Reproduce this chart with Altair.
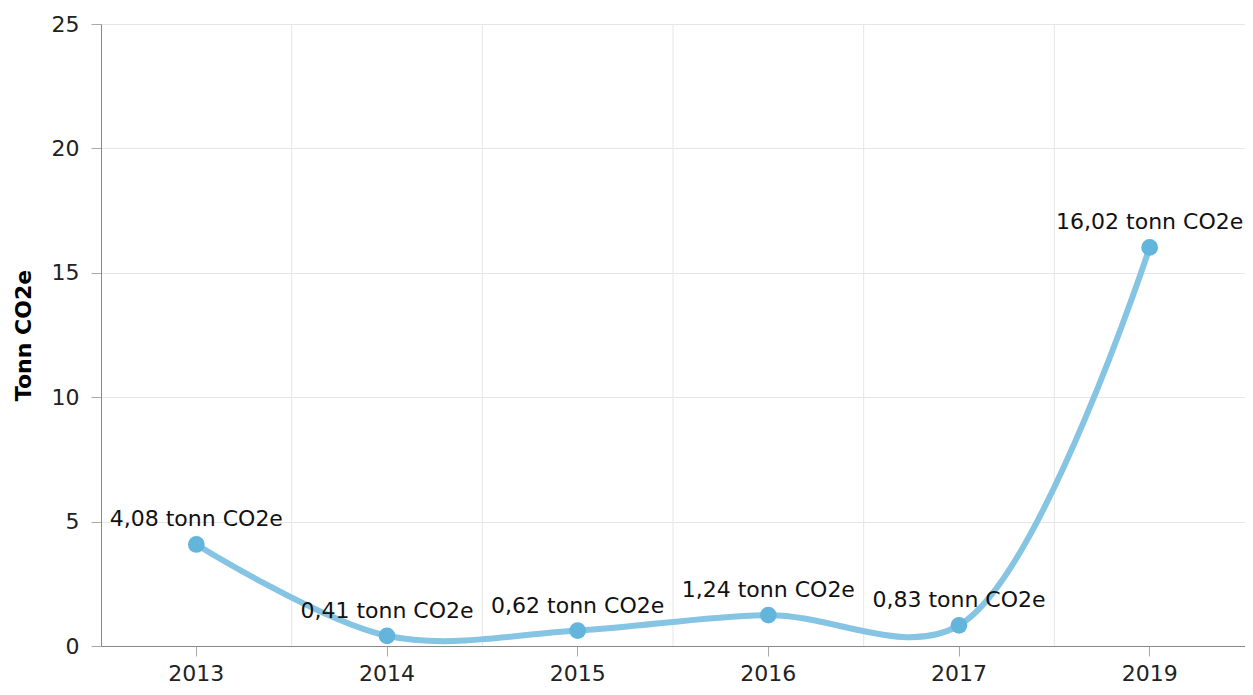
import altair as alt
import pandas as pd

years = ["2013", "2014", "2015", "2016", "2017", "2019"]
values = [4.08, 0.41, 0.62, 1.24, 0.83, 16.02]
unit = "tonn CO2e"

df = pd.DataFrame({"year": years, "value": values})
df["label"] = [f"{v:.2f}".replace(".", ",") + " " + unit for v in values]

FONT = "DejaVu Sans"
FS = 22

x_scale = alt.Scale(domain=years, paddingInner=0, paddingOuter=0)
y_scale = alt.Scale(domain=[0, 25])

x_axis = alt.Axis(
    title=None,
    labelAngle=0,
    labelFont=FONT,
    labelFontSize=FS,
    labelColor="#222222",
    tickSize=10,
    tickColor="#aaaaaa",
    domainColor="#888888",
    labelPadding=7,
    grid=False,
)

base = alt.Chart(df)

grid_v = base.transform_filter(alt.datum.year != "2013").mark_rule(
    color="#e6e6e6", strokeWidth=1
).encode(
    x=alt.X("year:N", scale=x_scale, bandPosition=0, axis=x_axis, sort=years),
)

line = base.mark_line(
    interpolate="catmull-rom", color="#85c4e3", strokeWidth=6
).encode(
    x=alt.X("year:N", scale=x_scale, sort=years, axis=x_axis),
    y=alt.Y(
        "value:Q",
        scale=y_scale,
        axis=alt.Axis(
            title="Tonn CO2e",
            titleFont=FONT,
            titleFontSize=FS,
            titleFontWeight="bold",
            titleColor="#000000",
            titlePadding=16,
            labelFont=FONT,
            labelFontSize=FS,
            labelColor="#222222",
            values=[0, 5, 10, 15, 20, 25],
            tickSize=10,
            tickColor="#aaaaaa",
            domainColor="#888888",
            labelPadding=12,
            gridColor="#e6e6e6",
        ),
    ),
)

points = base.mark_circle(
    size=280, color="#64b5dc", opacity=1
).encode(x=alt.X("year:N", scale=x_scale), y=alt.Y("value:Q", scale=y_scale))

labels = base.mark_text(
    dy=-25, font=FONT, fontSize=FS, color="#111111", align="center", baseline="middle"
).encode(
    x=alt.X("year:N", scale=x_scale),
    y=alt.Y("value:Q", scale=y_scale),
    text="label:N",
)

chart = (
    alt.layer(grid_v, line, points, labels)
    .properties(
        width=1144,
        height=622,
        autosize=alt.AutoSizeParams(type="none"),
        padding={"left": 93, "top": 16, "right": 0, "bottom": 40},
    )
    .configure_view(stroke=None)
)

chart.save("out.html", embed_options={"renderer": "svg", "actions": False})
